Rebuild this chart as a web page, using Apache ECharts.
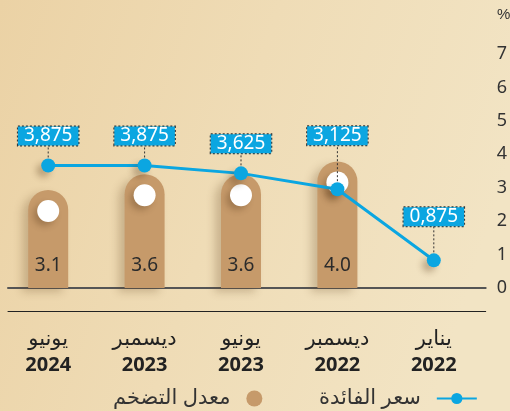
<!DOCTYPE html>
<html>
<head>
<meta charset="utf-8">
<script src="https://cdn.jsdelivr.net/npm/echarts@6/dist/echarts.min.js"></script>
<style>
  html, body { margin: 0; padding: 0; }
  #container { width: 510px; height: 411px; }
</style>
</head>
<body>
<div id="container"></div>
<script>
// categories in time order (axis is inverted, so the oldest sits on the right)
var months = ['يناير', 'ديسمبر', 'يونيو', 'ديسمبر', 'يونيو'];
var years = ['2022', '2022', '2023', '2023', '2024'];
var inflation = [null, 4.0, 3.6, 3.6, 3.1];      // معدل التضخم
var interest = [0.875, 3.125, 3.625, 3.875, 3.875]; // سعر الفائدة
var yTicks = [0, 1, 2, 3, 4, 5, 6, 7];

// how far each blue box sits above its point (px)
var labelLift = [34, 44, 20, 20, 20];

var FONT = "'Noto Sans', 'DejaVu Sans', sans-serif";
var BAR = '#c69a6a';
var BLUE = '#0ba6e1';

var categories = months.map(function (m, i) { return m + '\n' + years[i]; });

var dom = document.getElementById('container');
var myChart = echarts.init(dom);

var option = {
  backgroundColor: {
    type: 'linear', x: 0, y: 0, x2: 1, y2: 0.4,
    colorStops: [
      { offset: 0, color: '#ebd2a5' },
      { offset: 0.5, color: '#efdcb6' },
      { offset: 1, color: '#f2e4c4' }
    ]
  },
  textStyle: { fontFamily: FONT },
  animation: false,
  graphic: [{
    type: 'text',
    left: 497, top: 7,
    style: { text: '%', fontSize: 15, fill: '#333', font: '15px ' + FONT }
  }],
  legend: [{
    data: [{ name: 'معدل التضخم', icon: 'circle' }],
    left: 108, top: 383,
    align: 'right',
    itemWidth: 16, itemHeight: 16,
    formatter: function (n) { return n + '  '; },
    textStyle: { fontSize: 21, color: '#333', fontFamily: FONT }
  }, {
    data: ['سعر الفائدة'],
    left: 314, top: 383,
    align: 'right',
    itemWidth: 40, itemHeight: 14,
    formatter: function (n) { return n + '  '; },
    textStyle: { fontSize: 21, color: '#333', fontFamily: FONT }
  }],
  grid: [
    { left: 0, right: 28, top: 54, bottom: 123 },
    { left: 8, right: 23, top: 54, bottom: 123 }
  ],
  xAxis: [{
    gridIndex: 0,
    type: 'category',
    inverse: true,
    data: categories,
    axisLine: { show: false },
    axisTick: { show: false },
    axisLabel: {
      margin: 38,
      formatter: function (v) {
        var p = v.split('\n');
        return '{m|' + p[0] + '}\n{y|' + p[1] + '}';
      },
      rich: {
        m: { fontSize: 21, color: '#222', lineHeight: 26, fontFamily: FONT },
        y: { fontSize: 20, fontWeight: 'bold', color: '#222', lineHeight: 26, fontFamily: FONT }
      }
    }
  }, {
    gridIndex: 1,
    type: 'value',
    axisLine: { show: true, onZero: false, lineStyle: { color: '#555', width: 2 } },
    axisTick: { show: false },
    axisLabel: { show: false },
    splitLine: { show: false }
  }, {
    gridIndex: 1,
    type: 'value',
    position: 'bottom',
    offset: 23,
    axisLine: { show: true, onZero: false, lineStyle: { color: '#222', width: 1 } },
    axisTick: { show: false },
    axisLabel: { show: false },
    splitLine: { show: false }
  }],
  yAxis: [{
    gridIndex: 0,
    type: 'value',
    min: 0,
    max: 7.4,
    show: false
  }, {
    gridIndex: 1,
    type: 'value',
    position: 'right',
    min: yTicks[0],
    max: yTicks[yTicks.length - 1],
    interval: 1,
    axisLine: { show: false },
    axisTick: { show: false },
    splitLine: { show: false },
    axisLabel: { margin: 11, fontSize: 18, color: '#333', align: 'left' }
  }],
  series: [{
    name: 'معدل التضخم',
    type: 'bar',
    xAxisIndex: 0, yAxisIndex: 0,
    barWidth: 40,
    data: inflation,
    itemStyle: {
      color: BAR,
      borderRadius: [20, 20, 0, 0],
      shadowColor: 'rgba(90, 60, 25, 0.25)',
      shadowBlur: 8,
      shadowOffsetX: -6,
      shadowOffsetY: 4
    },
    label: {
      show: true,
      position: 'insideBottom',
      distance: 13,
      fontSize: 19,
      color: '#2b2b2b',
      formatter: function (p) { return p.value == null ? '' : p.value.toFixed(1); }
    },
    z: 2
  }, {
    // white dot on top of every bar
    type: 'scatter',
    xAxisIndex: 0, yAxisIndex: 0,
    data: inflation,
    symbol: 'circle',
    symbolSize: 22,
    symbolOffset: [0, 21],
    itemStyle: {
      color: '#fff',
      opacity: 1,
      shadowColor: 'rgba(80, 50, 20, 0.3)',
      shadowBlur: 6,
      shadowOffsetX: -4,
      shadowOffsetY: 4
    },
    silent: true,
    z: 3
  }, {
    name: 'سعر الفائدة',
    type: 'line',
    xAxisIndex: 0, yAxisIndex: 0,
    data: interest,
    symbol: 'circle',
    symbolSize: 14,
    lineStyle: { color: BLUE, width: 3 },
    itemStyle: {
      color: BLUE,
      shadowColor: 'rgba(80, 50, 20, 0.3)',
      shadowBlur: 6,
      shadowOffsetX: -5,
      shadowOffsetY: 5
    },
    z: 5
  }, {
    // boxed values with dotted leader lines
    type: 'custom',
    xAxisIndex: 0, yAxisIndex: 0,
    data: interest.map(function (v, i) { return [i, v]; }),
    encode: { x: 0, y: 1 },
    z: 4,
    silent: true,
    renderItem: function (params, api) {
      var i = api.value(0);
      var v = api.value(1);
      var p = api.coord([i, v]);
      var lift = labelLift[params.dataIndex];
      return {
        type: 'group',
        children: [{
          type: 'line',
          shape: { x1: p[0], y1: p[1], x2: p[0], y2: p[1] - lift },
          style: { stroke: '#333', lineWidth: 1, lineDash: [2, 2] }
        }, {
          type: 'text',
          x: p[0], y: p[1] - lift,
          style: {
            text: v.toFixed(3).replace('.', ','),
            fill: '#fff',
            font: '19px ' + FONT,
            align: 'center',
            verticalAlign: 'bottom',
            backgroundColor: BLUE,
            borderColor: '#333',
            borderWidth: 1,
            borderDash: [2, 2],
            padding: [0, 6, 0, 6],
            lineHeight: 19
          },
          z2: 10
        }]
      };
    }
  }]
};

myChart.setOption(option);
</script>
</body>
</html>
